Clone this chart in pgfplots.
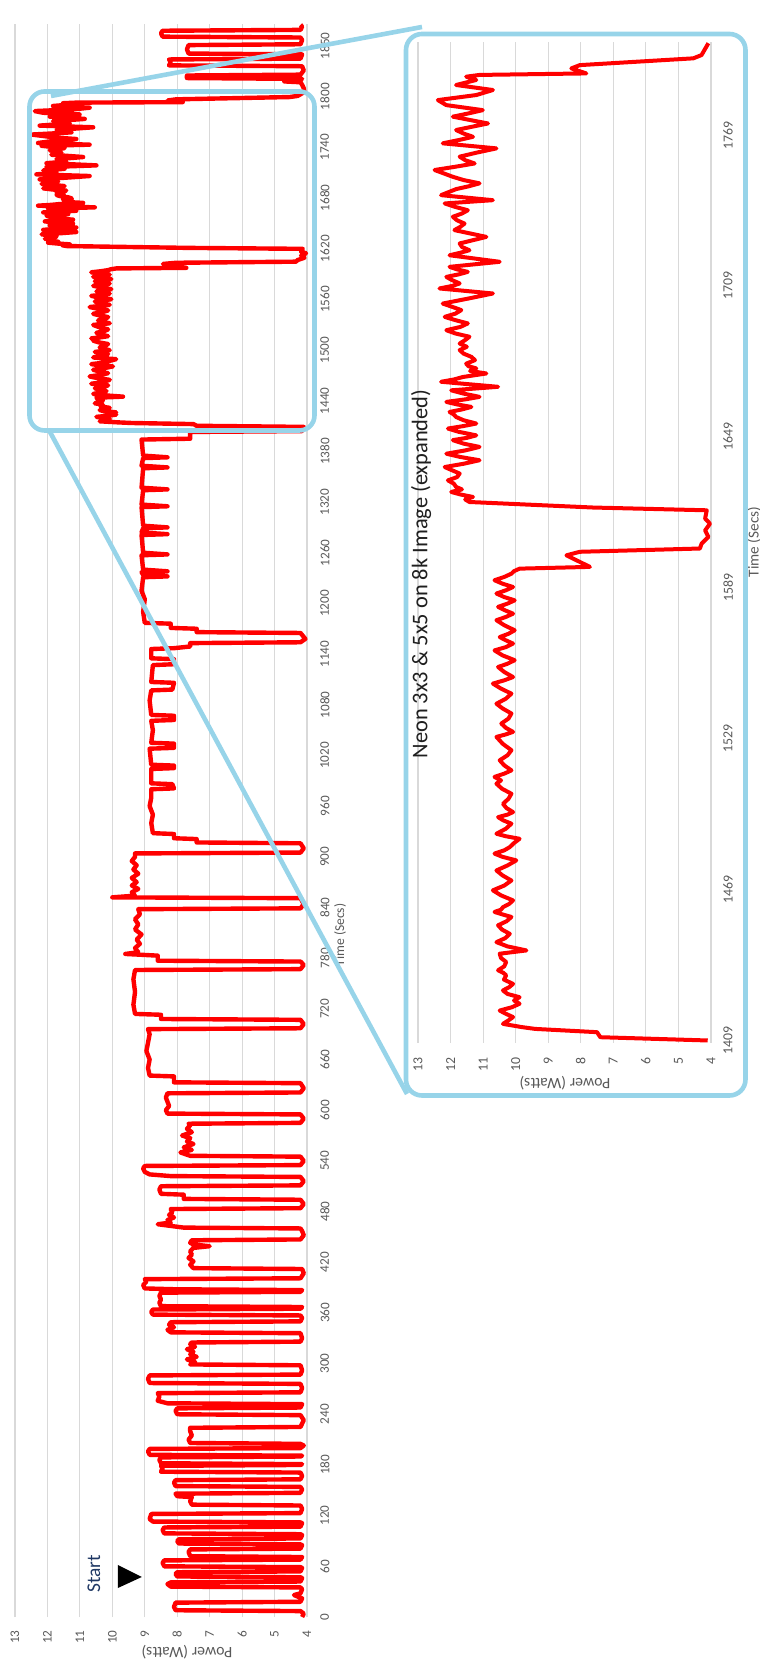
\documentclass[border=0pt]{standalone}
\usepackage{pgfplots}
\pgfplotsset{compat=1.18}
\usepackage{pgfplotstable}
\usepackage{fontspec}
\setmainfont{Carlito}

\definecolor{powerred}{RGB}{255,0,0}
\definecolor{zoomblue}{RGB}{151,212,233}
\definecolor{gridgray}{RGB}{217,217,217}
\definecolor{labelgray}{RGB}{89,89,89}
\definecolor{startblue}{RGB}{31,56,100}

% Power draw over the whole run: time (s), power (W)
\pgfplotstableread{
t p
0 4.15
4 4.10
7 4.20
8 8.05
12 8.10
17 8.05
18 4.20
22 4.15
26 4.40
28 4.20
33 4.15
35 4.20
36 8.20
39 8.30
41 8.20
42 4.20
46 4.15
47 4.20
48 8.00
51 8.05
53 8.00
54 4.20
58 4.15
59 4.20
60 8.40
64 8.45
67 8.40
68 4.20
71 4.15
72 7.60
77 7.65
80 7.60
81 4.20
85 4.15
86 4.20
87 7.95
90 8.00
92 7.95
93 4.20
97 4.15
98 4.20
99 8.40
103 8.45
106 8.40
107 4.20
111 4.15
112 4.20
113 8.75
116 8.85
122 8.80
123 4.20
128 4.15
132 4.20
133 7.55
137 7.60
142 7.55
143 8.00
146 8.05
147 4.20
151 4.15
154 4.20
155 8.05
159 8.10
162 8.05
163 4.20
167 4.15
171 4.20
172 8.50
176 8.45
179 8.50
180 4.20
181 4.15
182 8.50
186 8.55
189 8.50
190 4.20
191 4.15
192 8.85
196 8.90
199 8.85
200 4.20
203 4.10
205 4.20
206 7.60
210 7.65
215 7.55
220 7.60
224 7.60
225 4.20
229 4.15
233 4.10
239 4.20
240 8.00
244 8.05
247 8.00
248 4.20
252 4.15
253 8.30
256 8.60
261 8.55
265 8.60
266 4.20
271 4.15
276 4.20
277 8.85
282 8.90
286 8.85
287 4.20
292 4.15
298 4.20
299 7.60
302 7.45
305 7.70
308 7.40
311 7.60
314 7.50
317 7.70
320 7.45
323 7.60
325 7.55
326 4.20
330 4.15
336 4.20
337 8.20
340 8.30
343 8.10
346 8.25
349 8.20
350 4.20
354 4.15
357 4.20
358 8.75
361 8.80
364 8.75
365 4.20
367 4.15
368 8.50
372 8.55
376 8.50
380 8.55
384 8.50
385 4.20
387 4.15
388 8.05
389 9.00
393 9.05
397 8.95
400 9.00
401 4.20
407 4.10
412 4.15
413 7.50
417 7.60
421 7.50
425 7.65
429 7.55
433 7.60
437 7.50
439 7.00
441 7.50
443 7.60
446 7.55
447 4.20
452 4.10
457 4.15
460 4.20
461 7.80
465 8.60
467 8.20
470 8.30
473 8.10
476 8.25
479 8.15
483 8.20
484 4.20
489 4.10
494 4.20
495 7.80
500 7.80
501 8.50
506 8.55
510 8.50
511 4.20
516 4.10
521 4.20
522 8.20
524 8.85
527 9.00
531 9.05
534 9.00
535 4.20
540 4.10
545 4.20
546 7.60
550 7.90
553 7.55
556 7.80
560 7.50
563 7.70
567 7.60
570 7.85
574 7.55
578 7.70
582 7.60
584 7.65
585 4.20
590 4.10
595 4.20
596 8.30
600 8.35
605 8.25
610 8.30
615 8.35
620 8.30
621 4.20
626 4.10
632 4.20
633 8.10
640 8.10
641 8.85
650 8.90
660 8.85
670 8.95
680 8.90
690 8.85
696 8.90
697 4.20
702 4.10
707 4.20
708 8.50
713 8.50
714 9.30
725 9.35
740 9.30
755 9.35
766 9.30
767 4.20
772 4.10
776 4.20
777 8.60
783 8.60
785 9.60
787 9.20
792 9.30
797 9.15
802 9.25
808 9.10
814 9.30
820 9.20
826 9.30
832 9.15
838 9.20
839 4.20
844 4.10
851 4.20
852 10.00
854 9.30
858 9.40
862 9.20
866 9.40
870 9.25
875 9.40
880 9.20
885 9.35
890 9.25
895 9.40
900 9.30
904 9.30
905 4.20
910 4.10
916 4.20
917 7.40
921 7.40
922 8.10
927 8.10
928 8.75
940 8.80
950 8.75
960 8.85
970 8.80
980 8.80
981 8.10
986 8.15
987 8.80
1004 8.80
1005 8.10
1008 8.10
1009 8.80
1028 8.85
1029 8.10
1034 8.10
1035 8.80
1050 8.75
1061 8.80
1062 8.10
1067 8.10
1068 8.80
1085 8.85
1097 8.80
1098 8.15
1106 8.10
1107 8.80
1127 8.75
1128 8.10
1134 8.10
1135 8.80
1146 8.80
1147 8.10
1149 7.60
1153 7.60
1154 4.20
1158 4.05
1165 4.20
1166 7.40
1170 7.40
1171 8.20
1176 8.20
1177 9.00
1190 9.05
1205 9.00
1215 9.10
1231 9.05
1232 8.30
1234 9.05
1237 9.10
1238 8.30
1240 9.05
1257 9.10
1258 8.30
1260 9.05
1281 9.10
1282 8.30
1284 9.10
1289 9.05
1290 8.30
1292 9.05
1314 9.10
1315 8.30
1317 9.10
1334 9.05
1335 8.30
1337 9.10
1360 9.05
1361 8.30
1363 9.10
1372 9.05
1373 8.30
1375 9.05
1394 9.10
1395 7.60
1403 7.60
1404 4.15
1409 4.10
1410.3 7.40
1412.3 7.50
1413.6 9.40
1414.3 9.80
1415.6 10.39
1417.0 10.22
1418.3 10.08
1419.6 10.30
1420.9 10.49
1422.2 10.12
1423.6 9.88
1424.9 10.05
1426.2 9.88
1427.5 10.25
1428.9 10.39
1430.2 10.20
1431.5 10.08
1433.2 10.36
1434.9 10.29
1435.9 10.38
1436.9 10.54
1438.5 10.35
1440.2 10.29
1441.8 10.45
1443.5 10.49
1444.8 9.67
1446.4 10.25
1448.1 10.59
1449.7 10.32
1451.4 10.18
1453.1 10.42
1454.8 10.54
1456.4 10.28
1458.1 10.13
1459.1 10.40
1460.1 10.65
1461.0 10.45
1462.0 10.39
1463.3 10.20
1464.7 10.08
1466.7 10.45
1468.7 10.70
1470.6 10.35
1472.6 10.13
1474.6 10.40
1476.6 10.59
1478.6 10.25
1480.6 9.98
1482.0 10.40
1483.3 10.65
1484.6 10.35
1485.9 10.18
1487.5 10.05
1489.2 9.88
1490.2 10.30
1491.2 10.59
1493.2 10.30
1495.2 10.13
1496.5 10.38
1497.8 10.54
1498.8 10.25
1499.8 10.08
1501.4 10.28
1503.1 10.39
1505.1 10.22
1507.1 10.13
1509.1 10.42
1511.1 10.59
1512.4 10.45
1513.8 10.65
1515.1 10.35
1516.4 10.13
1518.4 10.35
1520.4 10.49
1522.4 10.25
1524.4 10.13
1527.0 10.40
1529.7 10.59
1530.7 10.30
1531.7 10.08
1533.3 10.30
1535.0 10.44
1537.0 10.22
1539.0 10.13
1541.0 10.40
1542.9 10.59
1544.9 10.30
1546.9 10.13
1548.9 10.45
1550.9 10.70
1552.2 10.35
1553.5 10.08
1555.5 10.35
1557.5 10.54
1558.8 10.25
1560.2 10.03
1562.1 10.40
1564.1 10.65
1565.4 10.30
1566.8 10.08
1568.1 10.30
1569.4 10.49
1570.7 10.22
1572.1 10.03
1574.1 10.35
1576.1 10.59
1577.4 10.30
1578.7 10.08
1580.0 10.32
1581.4 10.54
1582.7 10.25
1584.0 10.03
1585.3 10.35
1586.7 10.59
1588.0 10.30
1589.3 10.08
1590.6 10.40
1592.0 10.65
1593.3 10.35
1594.6 10.13
1595.6 10.05
1596.6 9.88
1597.3 7.72
1601.9 8.44
1603.3 8.03
1604.6 4.34
1606.5 4.29
1609.2 4.08
1611.8 4.18
1614.5 4.03
1616.5 4.18
1619.8 4.13
1620.9 7.62
1623.1 11.42
1624.1 11.55
1625.1 11.31
1626.1 11.70
1627.1 11.98
1628.1 11.65
1629.1 11.83
1630.4 11.90
1631.7 12.08
1633.0 11.80
1634.4 11.72
1635.7 11.95
1637.0 12.18
1638.3 11.60
1639.7 11.11
1641.0 11.70
1642.3 12.13
1643.6 11.55
1645.0 11.11
1646.3 11.60
1647.7 11.93
1648.6 11.50
1649.6 11.21
1651.0 11.75
1652.3 12.08
1653.3 11.60
1654.3 11.21
1655.6 11.60
1656.9 11.83
1657.9 11.90
1658.9 12.03
1659.9 11.65
1660.9 11.36
1661.9 11.80
1662.9 12.13
1663.9 11.55
1664.9 11.11
1666.2 11.60
1667.5 11.98
1668.9 10.54
1670.9 12.29
1671.8 11.90
1672.8 11.62
1674.2 10.90
1675.2 11.40
1676.2 11.21
1677.1 11.45
1678.1 11.52
1679.5 11.25
1680.8 11.36
1682.1 11.60
1683.5 11.72
1684.8 11.50
1686.1 11.72
1687.5 11.55
1688.8 11.42
1690.1 11.85
1691.4 12.13
1692.7 11.70
1694.1 11.47
1695.4 11.85
1696.7 12.18
1698.0 11.85
1699.4 11.67
1700.7 11.95
1702.0 12.24
1704.0 11.45
1706.0 10.70
1708.0 12.34
1709.0 11.95
1710.0 11.72
1711.3 11.95
1712.6 12.13
1713.6 11.75
1714.6 11.47
1715.6 11.80
1716.6 12.03
1718.6 10.49
1721.2 12.03
1722.2 11.70
1723.2 11.42
1724.5 11.65
1725.9 11.72
1728.5 10.90
1731.2 11.88
1732.5 11.70
1733.8 11.57
1735.1 11.80
1736.5 11.93
1737.8 11.65
1739.1 11.47
1740.4 11.85
1741.8 12.18
1743.1 10.70
1745.1 12.29
1747.5 11.83
1748.6 11.45
1749.8 11.11
1751.1 11.60
1752.4 11.93
1753.7 12.20
1755.1 12.49
1756.4 11.85
1757.7 11.26
1759.0 11.55
1760.4 11.72
1762.0 11.20
1763.7 10.59
1765.7 12.24
1767.0 11.75
1768.3 11.31
1769.6 11.60
1771.0 11.83
1773.6 10.85
1776.3 11.93
1777.6 11.45
1778.9 11.01
1780.9 12.13
1782.9 12.39
1784.9 11.21
1786.9 10.70
1788.9 11.83
1790.9 11.21
1792.2 11.52
1792.9 11.11
1793.5 7.83
1795.5 8.29
1796.8 8.03
1799.5 4.54
1800.8 4.29
1805.5 4.08
1810 4.10
1814 4.15
1817 4.20
1818 4.70
1820 4.20
1821 4.15
1822 7.70
1825 7.70
1826 4.20
1831 4.10
1836 4.15
1837 8.25
1841 8.20
1844 8.25
1845 4.20
1850 4.15
1851 7.65
1856 7.70
1861 7.65
1862 4.20
1867 4.15
1870 4.20
1871 8.45
1875 8.50
1878 8.45
1879 4.20
1883 4.15
1885 4.20
}\powerdata

\pgfplotsset{
  powerchart/.style={
    scale only axis,
    anchor=south west,
    x dir=reverse,
    xmin=4, xmax=13,
    xtick={4,...,13},
    xmajorgrids,
    grid style={gridgray, line width=0.6pt},
    axis line style={draw=none},
    major tick length=0pt,
    /pgf/number format/assume math mode=true,
    /pgf/number format/1000 sep={},
    yticklabel pos=right,
    tick label style={text=labelgray, inner sep=0pt},
    xticklabel style={rotate=90, anchor=east},
    yticklabel style={rotate=90, anchor=north},
    clip=false,
  },
}

\begin{document}
\begin{tikzpicture}
\useasboundingbox (0,0) rectangle (380pt,833pt);
\clip (0,0) rectangle (380pt,833pt);

% Full run
\begin{axis}[powerchart,
  at={(7.5pt,24.5pt)}, width=146pt, height=796.5pt,
  ymin=0, ymax=1886,
  ytick={0,60,...,1860},
  yticklabels={0,60,120,180,240,300,360,420,480,540,600,660,720,780,840,900,960,1020,1080,1140,1200,1260,1320,1380,1440,1500,1560,1620,1680,1740,1800,1850},
  tick label style={font=\fontsize{6.6}{7}\selectfont},
  xticklabel shift=6.5pt, yticklabel shift=6.5pt,
]
\addplot[powerred, line width=2.2pt, line join=round] table[x=p, y=t] {\powerdata};
\fill[black] (axis cs:9.83,61.6) -- (axis cs:9.83,34.3) -- (axis cs:9.09,47.4) -- cycle;
\end{axis}

% Expanded view of the Neon section
\begin{axis}[powerchart,
  at={(209pt,311.5pt)}, width=146.5pt, height=500.5pt,
  ymin=1408, ymax=1806,
  ytick={1409,1469,...,1769},
  restrict y to domain=1408:1806,
  tick label style={font=\fontsize{6.9}{8}\selectfont},
  xticklabel shift=7pt, yticklabel shift=6pt,
]
\addplot[powerred, line width=2pt, line join=round] table[x=p, y=t] {\powerdata};
\end{axis}

% Axis titles and annotations
\node[rotate=180, text=labelgray, font=\fontsize{7.9}{9}\selectfont] at (93.5pt,7pt) {Power (Watts)};
\node[rotate=90, text=labelgray, font=\fontsize{6.8}{8}\selectfont] at (170pt,365.5pt) {Time (Secs)};
\node[rotate=180, text=labelgray, font=\fontsize{7.9}{9}\selectfont] at (282.5pt,291.5pt) {Power (Watts)};
\node[rotate=90, text=labelgray, font=\fontsize{7.6}{9}\selectfont] at (377pt,562pt) {Time (Secs)};
\node[rotate=90, text=black!88, font=\fontsize{11.2}{13}\selectfont] at (210.5pt,546pt) {Neon 3x3 \& 5x5 on 8k Image (expanded)};
\node[rotate=90, text=startblue, font=\fontsize{9.7}{11}\selectfont] at (47pt,46pt) {Start};

% Zoom frame and its leader lines
\draw[zoomblue, line width=2.3pt, rounded corners=7.5pt] (14.75pt,617.75pt) rectangle (157.25pt,787.25pt);
\draw[zoomblue, line width=2.3pt, rounded corners=8pt] (203pt,285.25pt) rectangle (372.75pt,816pt);
\draw[zoomblue, line width=2.3pt] (25.5pt,785pt) -- (211pt,819.5pt);
\draw[zoomblue, line width=2.3pt] (25pt,617pt) -- (203.5pt,286pt);
\end{tikzpicture}
\end{document}
